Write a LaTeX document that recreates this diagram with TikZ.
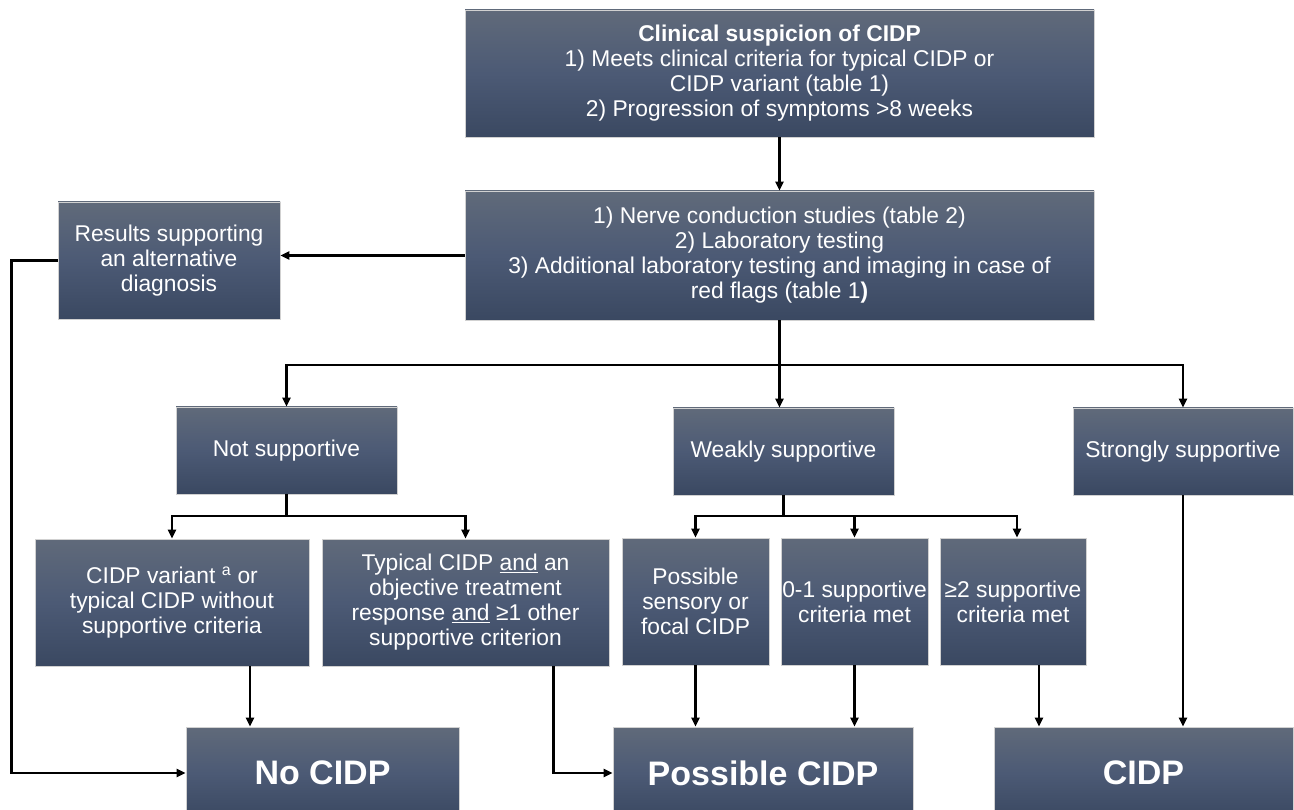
\documentclass[tikz,border=0pt]{standalone}
\usepackage{fontspec}
\setmainfont{Liberation Sans}
\usetikzlibrary{arrows.meta}
\definecolor{boxtop}{HTML}{606A7A}
\definecolor{boxmid}{HTML}{4C5A75}
\definecolor{boxbot}{HTML}{3A4861}
\begin{document}
\begin{tikzpicture}[x=1pt,y=-1pt,
        box/.style={rectangle,draw=black!18,line width=0.8pt,top color=boxtop,bottom color=boxbot,middle color=boxmid,
            text=white,align=center,inner sep=0pt,font=\fontsize{22.8}{25}\selectfont},
        bigbox/.style={box,font=\fontsize{34}{40}\selectfont\bfseries},
        wire/.style={line width=2.7pt},
        link/.style={line width=2.7pt,-{Triangle[length=9pt,width=8pt]}}]
        \useasboundingbox (0,0) rectangle (1294,810);
        %% top of the chart
        \node[box,minimum width=629pt,minimum height=127pt] (susp) at (779.5,73.5)
            {\textbf{Clinical suspicion of CIDP}\\1) Meets clinical criteria for typical CIDP or\\CIDP variant (table 1)\\2) Progression of symptoms >8 weeks};
        \node[box,minimum width=629pt,minimum height=129pt] (nerve) at (779.5,255.5)
            {1) Nerve conduction studies (table 2)\\2) Laboratory testing\\3) Additional laboratory testing and imaging in case of\\red flags (table 1\textbf{)}};
        \node[box,minimum width=222pt,minimum height=117pt] (altdiag) at (169,260.5)
            {Results supporting\\an alternative\\diagnosis};
        %% support level
        \node[box,minimum width=221pt,minimum height=87pt] (notsup) at (286.5,450.5) {Not supportive};
        \node[box,minimum width=221pt,minimum height=87pt] (weak) at (783.5,451.5) {Weakly supportive};
        \node[box,minimum width=220pt,minimum height=87pt] (strong) at (1183,451.5) {Strongly supportive};
        %% criteria
        \node[box,minimum width=274pt,minimum height=127pt] (variant) at (172,602.5)
            {CIDP variant \textsuperscript{a} or\\typical CIDP without\\supportive criteria};
        \node[box,minimum width=287pt,minimum height=127pt] (typical) at (465.5,602.5)
            {Typical CIDP \underline{and} an\\objective treatment\\response \underline{and} ≥1 other\\supportive criterion};
        \node[box,minimum width=147pt,minimum height=127pt] (sensory) at (695.5,601.5)
            {Possible\\sensory or\\focal CIDP};
        \node[box,minimum width=147pt,minimum height=127pt] (critlow) at (854.5,601.5)
            {0-1 supportive\\criteria met};
        \node[box,minimum width=146pt,minimum height=127pt] (crithigh) at (1013,601.5)
            {≥2 supportive\\criteria met};
        %% outcome
        \node[bigbox,minimum width=273pt,minimum height=92pt] (nocidp) at (322.5,773) {No CIDP};
        \node[bigbox,minimum width=300pt,minimum height=92pt] (possible) at (763,773) {Possible CIDP};
        \node[bigbox,minimum width=299pt,minimum height=92pt] (cidp) at (1143.5,773) {CIDP};
        %% split points
        \coordinate (split1) at (nerve.south |- 0,365);
        \coordinate (split2) at (notsup.south |- 0,516);
        \coordinate (split3) at (weak.south |- 0,516);
        %% connect
        \draw[link] (susp) -- (nerve);
        \draw[link] (nerve.west) -- (nerve.west -| altdiag.east);
        \draw[wire] (nerve.south) -- (split1);
        \draw[link] (split1) -| (notsup.north);
        \draw[link] (split1) -- (split1 |- weak.north);
        \draw[link] (split1) -| (strong.north);
        \draw[wire] (notsup.south) -- (split2);
        \draw[link] (split2) -| (variant.north);
        \draw[link] (split2) -| (typical.north);
        \draw[wire] (weak.south) -- (split3);
        \draw[link] (split3) -| (sensory.north);
        \draw[link] (split3) -| (critlow.north);
        \draw[link] (split3) -| ([xshift=4pt]crithigh.north);
        %% to the outcome
        \draw[link] (altdiag.west) -- ++(-46,0) |- (nocidp.west);
        \draw[link] ([xshift=78pt]variant.south) -- ([xshift=78pt]variant.south |- nocidp.north);
        \draw[link] ([xshift=88pt]typical.south) |- (possible.west);
        \draw[link] (sensory.south) -- (sensory.south |- possible.north);
        \draw[link] (critlow.south) -- (critlow.south |- possible.north);
        \draw[link] ([xshift=26pt]crithigh.south) -- ([xshift=26pt]crithigh.south |- cidp.north);
        \draw[link] (strong.south) -- (strong.south |- cidp.north);
    \end{tikzpicture}
\end{document}
